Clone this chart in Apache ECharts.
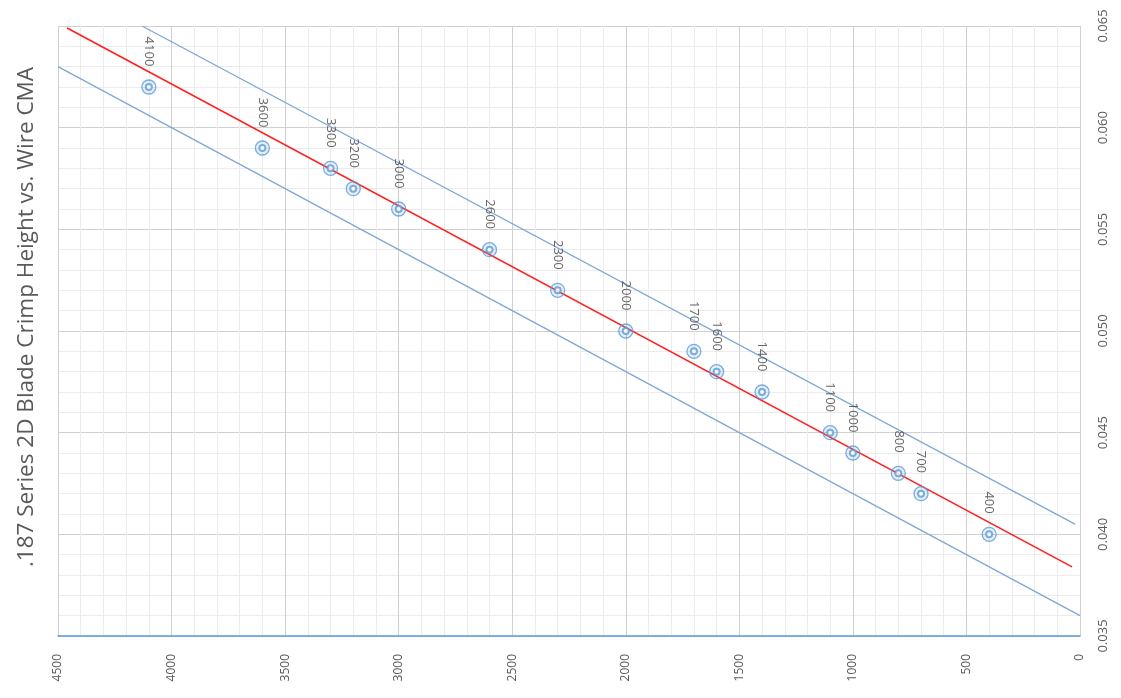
<!DOCTYPE html>
<html>
<head>
<meta charset="utf-8">
<script src="https://cdn.jsdelivr.net/npm/echarts@6/dist/echarts.min.js"></script>
<style>
html,body{margin:0;padding:0;background:#fff;}
#chart{width:1121px;height:698px;}
</style>
</head>
<body>
<div id="chart"></div>
<script>
// Wire CMA values (x) and measured crimp heights (y)
const cma = [4100, 3600, 3300, 3200, 3000, 2600, 2300, 2000, 1700, 1600, 1400, 1100, 1000, 800, 700, 400];
const crimpHeight = [0.062, 0.059, 0.058, 0.057, 0.056, 0.054, 0.052, 0.050, 0.049, 0.048, 0.047, 0.045, 0.044, 0.043, 0.042, 0.040];
// trend line and tolerance band endpoints [CMA, height]
const trendLine = [[35, 0.0384], [4460, 0.0649]];
const upperLimit = [[22, 0.0405], [4130, 0.0650]];
const lowerLimit = [[0, 0.0360], [4500, 0.0630]];
const xTicks = [0, 4500, 500];
const yTicks = [0.035, 0.065, 0.005];
const titleText = '.187 Series 2D Blade Crimp Height vs. Wire CMA';

const points = cma.map((c, i) => [c, crimpHeight[i]]);

const chart = echarts.init(document.getElementById('chart'), null, {renderer: 'canvas'});
const gridColor = '#d0d0d0';
const minorColor = '#ececec';
const textColor = '#595959';

chart.setOption({
  backgroundColor: '#ffffff',
  animation: false,
  grid: {left: 58, right: 41, top: 26, bottom: 62, containLabel: false},
  graphic: [{
    type: 'text',
    x: 27, y: 317,
    rotation: Math.PI / 2,
    style: {
      text: titleText,
      fill: textColor,
      font: '22.5px "Open Sans", "Noto Sans", sans-serif',
      textAlign: 'center',
      textVerticalAlign: 'middle'
    }
  }],
  xAxis: {
    type: 'value',
    min: xTicks[0], max: xTicks[1], interval: xTicks[2],
    inverse: true,
    position: 'bottom',
    axisLine: {show: true, lineStyle: {color: '#5b9bd5', width: 1.5}},
    axisTick: {show: false},
    axisLabel: {rotate: 90, margin: 18, color: textColor, fontSize: 12, fontFamily: '"Open Sans", sans-serif',
      formatter: v => String(v)},
    splitLine: {show: true, lineStyle: {color: gridColor, width: 1}},
    minorTick: {show: false, splitNumber: 5},
    minorSplitLine: {show: true, lineStyle: {color: minorColor, width: 1}}
  },
  yAxis: {
    type: 'value',
    min: yTicks[0], max: yTicks[1], interval: yTicks[2],
    position: 'right',
    axisLine: {show: false},
    axisTick: {show: false},
    axisLabel: {rotate: 90, margin: 17, color: textColor, fontSize: 13, fontFamily: '"Open Sans", sans-serif',
      formatter: v => v.toFixed(3)},
    splitLine: {show: true, lineStyle: {color: gridColor, width: 1}},
    minorTick: {show: false, splitNumber: 5},
    minorSplitLine: {show: true, lineStyle: {color: minorColor, width: 1}}
  },
  series: [
    {type: 'line', data: lowerLimit, symbol: 'none', lineStyle: {color: '#7fa7d6', width: 1.3}, z: 2},
    {type: 'line', data: upperLimit, symbol: 'none', lineStyle: {color: '#7fa7d6', width: 1.3}, z: 2},
    {type: 'line', data: trendLine, symbol: 'none', lineStyle: {color: '#ff2020', width: 1.6}, z: 3},
    {
      type: 'scatter', data: points, symbol: 'circle', symbolSize: 14,
      itemStyle: {color: 'rgba(91,155,213,0.18)', borderColor: '#5b9bd5', borderWidth: 1.3},
      label: {
        show: true, position: 'top', distance: 13, rotate: -90,
        align: 'right', verticalAlign: 'middle',
        formatter: p => String(p.value[0]),
        color: '#404040', fontSize: 13, fontFamily: '"Open Sans", sans-serif'
      },
      z: 4
    },
    {
      type: 'scatter', data: points, symbol: 'emptyCircle', symbolSize: 6,
      itemStyle: {color: '#5b9bd5', borderColor: '#5b9bd5', borderWidth: 1.3},
      silent: true, z: 5
    }
  ]
});
</script>
</body>
</html>
